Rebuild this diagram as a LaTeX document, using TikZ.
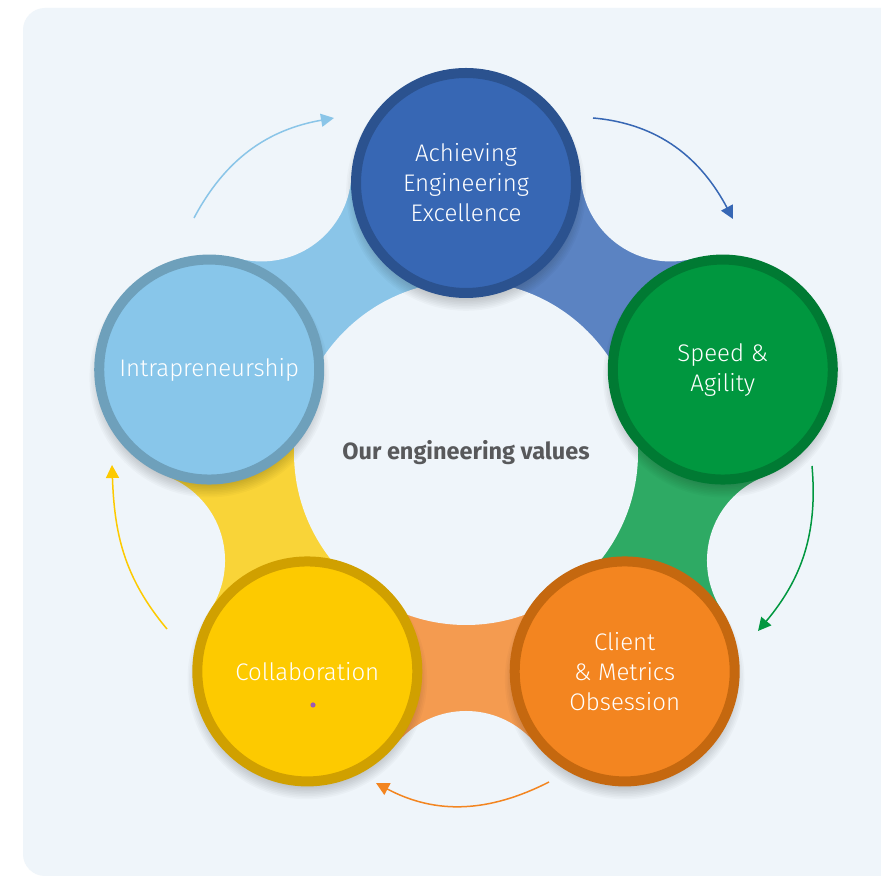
\documentclass[tikz,border=0pt]{standalone}
\usepackage{fontspec}
\setmainfont{Fira Sans Light}
\newfontfamily\titlefont{Fira Sans}
\usepackage{tikz}
\usepackage{color}
\usetikzlibrary{arrows.meta,calc}

\definecolor{bgcol}{HTML}{EFF5FA}
\definecolor{titlegray}{HTML}{58595B}
\definecolor{excelfill}{HTML}{3767B4}
\definecolor{excelline}{HTML}{2B528F}
\definecolor{excelband}{HTML}{5B83C2}
\definecolor{speedfill}{HTML}{00973F}
\definecolor{speedline}{HTML}{007A33}
\definecolor{speedband}{HTML}{2EAA64}
\definecolor{clientfill}{HTML}{F38520}
\definecolor{clientline}{HTML}{C5680F}
\definecolor{clientband}{HTML}{F49B50}
\definecolor{collabfill}{HTML}{FDCA00}
\definecolor{collabline}{HTML}{D0A000}
\definecolor{collabband}{HTML}{F9D438}
\definecolor{intrafill}{HTML}{88C6EA}
\definecolor{intraline}{HTML}{6EA0BB}
\definecolor{intraband}{HTML}{8AC5E8}
\definecolor{dotcol}{HTML}{9B59B6}

\begin{document}
\begin{tikzpicture}[x=1pt,y=1pt]
        \tikzstyle{value node}=[circle,minimum size=220pt,line width=10pt,align=center,text=white,font=\fontsize{24}{30}\selectfont]
        \tikzstyle{cycle arrow}=[line width=1.5pt,-{Triangle[length=13pt,width=13pt]}]

        \useasboundingbox (0,0) rectangle (881,877);
        \fill[white] (0,0) rectangle (881,877);
        \clip (0,0) rectangle (881,877);
        \fill[bgcol,rounded corners=22pt] (23,1) rectangle (910,869);

        \coordinate (O) at (466,424);
        \coordinate (p1) at ($(O)+(90:270)$);
        \coordinate (p2) at ($(O)+(18:270)$);
        \coordinate (p3) at ($(O)+(-54:270)$);
        \coordinate (p4) at ($(O)+(-126:270)$);
        \coordinate (p5) at ($(O)+(162:270)$);
        \coordinate (c12) at ($(O)+(54:348)$);
        \coordinate (c23) at ($(O)+(-18:348)$);
        \coordinate (c34) at ($(O)+(-90:348)$);
        \coordinate (c45) at ($(O)+(-162:348)$);
        \coordinate (c51) at ($(O)+(126:348)$);

        \begin{scope}
        \clip[rounded corners=22pt] (23,1) rectangle (910,869);
        \fill[excelband] (O) -- (p1) -- (c12) -- (p2) -- cycle;
        \fill[speedband] (O) -- (p2) -- (c23) -- (p3) -- cycle;
        \fill[clientband] (O) -- (p3) -- (c34) -- (p4) -- cycle;
        \fill[collabband] (O) -- (p4) -- (c45) -- (p5) -- cycle;
        \fill[intraband] (O) -- (p5) -- (c51) -- (p1) -- cycle;
        \foreach \c in {c12,c23,c34,c45,c51}
            \fill[bgcol] (\c) circle (90);
        \fill[bgcol] (O) circle (172);
        \end{scope}

        \foreach \p in {p1,p2,p3,p4,p5}
            \foreach \k in {1,...,8}
                \fill[black,opacity=0.024] ($(\p)+(0,-8)$) circle ({107+\k*1.6});

        \node[value node,fill=excelfill,draw=excelline] (excel) at (p1) {Achieving\\Engineering\\Excellence};
        \node[value node,fill=speedfill,draw=speedline] (speed) at (p2) {Speed \&\\Agility};
        \node[value node,fill=clientfill,draw=clientline] (client) at (p3) {Client\\\& Metrics\\Obsession};
        \node[value node,fill=collabfill,draw=collabline] (collab) at (p4) {Collaboration};
        \node[value node,fill=intrafill,draw=intraline] (intra) at (p5) {Intrapreneurship};
        \node[font=\titlefont\bfseries\fontsize{23.5}{28}\selectfont,text=titlegray] (title) at (O) {Our engineering values};
        \fill[dotcol] (313,172) circle (2.6);

        \coordinate (s1) at (194,659);
        \coordinate (e1) at (334,759);
        \coordinate (s2) at (593,759);
        \coordinate (e2) at (733,658);
        \coordinate (s3) at (812,411);
        \coordinate (e3) at (758,246);
        \coordinate (s4) at (549,95);
        \coordinate (e4) at (376,94);
        \coordinate (s5) at (167,248);
        \coordinate (e5) at (112,412);
        \draw[cycle arrow,intraband] (s1) to[out=62,in=190] (e1);
        \draw[cycle arrow,excelfill] (s2) to[out=-5,in=118] (e2);
        \draw[cycle arrow,speedfill] (s3) to[out=-85,in=50] (e3);
        \draw[cycle arrow,clientfill] (s4) to[out=207,in=-28] (e4);
        \draw[cycle arrow,collabfill] (s5) to[out=130,in=-88] (e5);
    \end{tikzpicture}
\end{document}
